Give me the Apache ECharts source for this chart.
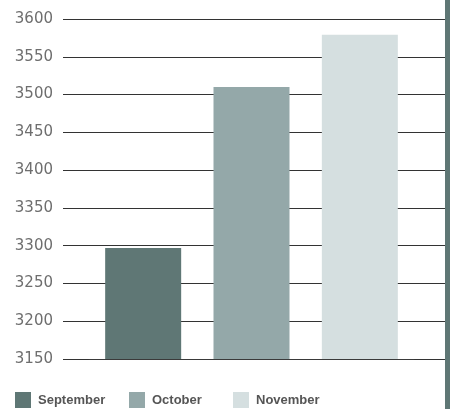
<!DOCTYPE html>
<html>
<head>
<meta charset="utf-8">
<script src="https://cdn.jsdelivr.net/npm/echarts@6/dist/echarts.min.js"></script>
<style>
html,body{margin:0;padding:0;background:#fff;}
#chart{width:450px;height:409px;}
</style>
</head>
<body>
<div id="chart"></div>
<script>
const categories = ['September', 'October', 'November'];
const values = [3297, 3510, 3579];
const colors = ['#5f7775', '#94a8a9', '#d5dfe0'];
const yMin = 3150, yMax = 3600, yStep = 50;

const chart = echarts.init(document.getElementById('chart'), null, {renderer: 'canvas'});

const series = categories.map((name, i) => ({
  name: name,
  type: 'bar',
  xAxisIndex: 1,
  yAxisIndex: 1,
  barWidth: 76,
  barGap: '-100%',
  itemStyle: {color: colors[i]},
  data: categories.map((c, j) => j === i ? values[i] : '-'),
  animation: false
}));

const legendLeft = [15, 129, 233];
const legends = categories.map((name, i) => ({
  data: [{name: name, icon: 'rect'}],
  left: legendLeft[i],
  top: 392,
  itemWidth: 16,
  itemHeight: 16,
  padding: 0,
  selectedMode: false,
  textStyle: {
    fontFamily: '"Liberation Sans", Arial, sans-serif',
    fontSize: 13,
    fontWeight: 'bold',
    color: '#555',
    padding: [0, 0, 0, 2]
  }
}));

chart.setOption({
  animation: false,
  grid: [
    {left: 63, right: 5, top: 19, bottom: 50},
    {left: 89, right: 36, top: 19, bottom: 50}
  ],
  legend: legends,
  xAxis: [
    {gridIndex: 0, type: 'category', data: categories, show: false},
    {gridIndex: 1, type: 'category', data: categories, z: 10,
     axisLine: {show: true, lineStyle: {color: '#3a3a3a', width: 1}},
     axisTick: {show: false}, axisLabel: {show: false}, splitLine: {show: false}}
  ],
  yAxis: [
    {gridIndex: 0, type: 'value', min: yMin, max: yMax, interval: yStep,
     axisLine: {show: false}, axisTick: {show: false},
     axisLabel: {margin: 10, color: '#6e6e6e', fontSize: 15, fontFamily: '"DejaVu Sans", sans-serif',
                 formatter: v => String(v)},
     splitLine: {show: true, lineStyle: {color: '#333', width: 1}}},
    {gridIndex: 1, type: 'value', min: yMin, max: yMax, interval: yStep, show: false,
     splitLine: {show: false}}
  ],
  graphic: [
    {type: 'rect', shape: {x: 445, y: 0, width: 5, height: 409}, style: {fill: '#5f7775'}, z: 100}
  ],
  series: series
});
</script>
</body>
</html>
